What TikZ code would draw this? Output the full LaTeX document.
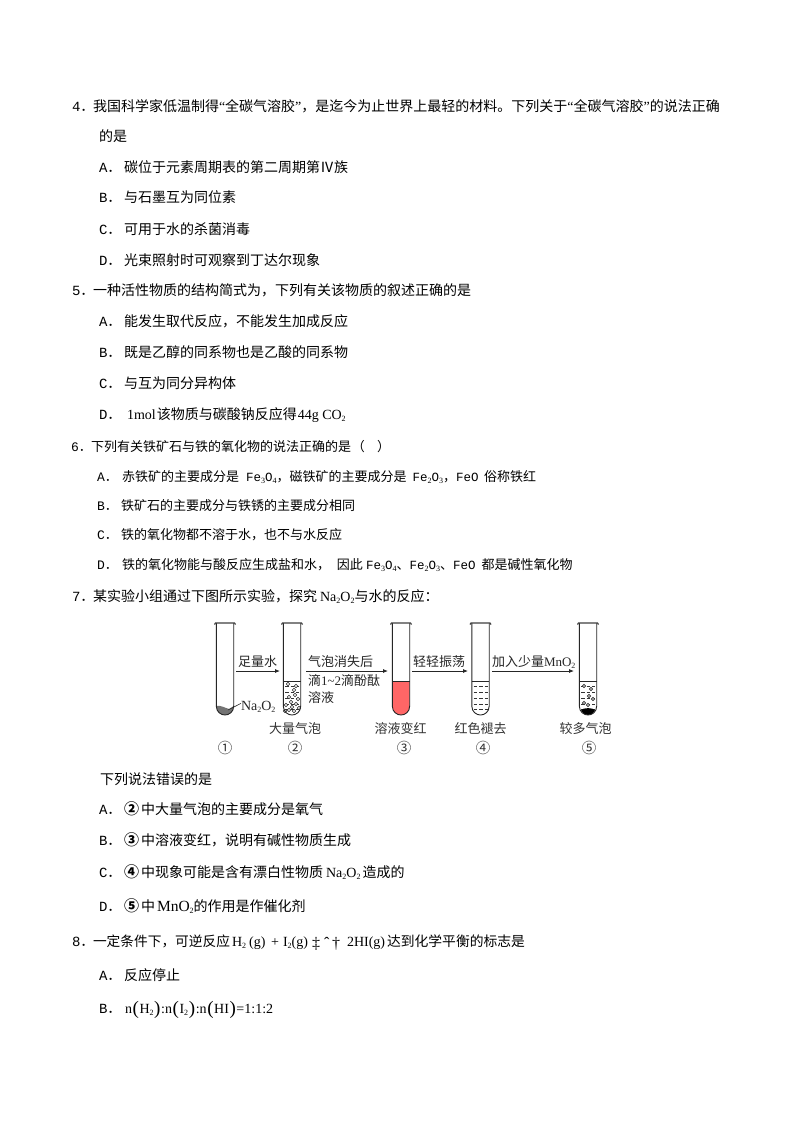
\documentclass[tikz,border=0pt]{standalone}
\usepackage{fontspec}
\usetikzlibrary{arrows.meta}
\setmainfont{Noto Sans CJK SC}
\newfontfamily\lat{Liberation Serif}
\newfontfamily\mon{Liberation Mono}
\newcommand{\dn}[1]{\raisebox{-2pt}{\fontsize{8}{8}\selectfont\lat #1}}
\newcommand{\nao}{{\lat Na\dn{2}O\dn{2}}}
\newcommand{\fsA}{\fontsize{14}{15}\selectfont}
\newcommand{\fsB}{\fontsize{13}{14}\selectfont}
\newcommand{\fsC}{\fontsize{13}{15}\selectfont}
\newcommand{\opt}[1]{{\mon #1}}
\newcommand{\ql}{{\lat “}}
\newcommand{\qr}{{\lat ”}}
\newcommand{\bigp}[1]{\hspace{0.6pt}{\lat\fontsize{19}{19}\selectfont\raisebox{-1.5pt}{#1}}\hspace{0.6pt}}
\newcommand{\fe}[1]{{\mon\fontsize{12.5}{14}\selectfont #1}}
\newcommand{\cnum}[1]{{\bfseries\fontsize{15}{15}\selectfont #1}\hspace{2pt}}
\newcommand{\tubeshape}[1]{(#1-8.7,623) -- (#1-8.7,706) .. controls (#1-8.7,712) and (#1-4,715) .. (#1,715) .. controls (#1+4,715) and (#1+8.7,712) .. (#1+8.7,706) -- (#1+8.7,623)}
\newcommand{\liquid}[2]{\fill[#2] (#1-8.7,681) -- (#1-8.7,706) .. controls (#1-8.7,712) and (#1-4,715) .. (#1,715) .. controls (#1+4,715) and (#1+8.7,712) .. (#1+8.7,706) -- (#1+8.7,681) -- cycle;}
\newcommand{\tube}[1]{\draw[tubeline] \tubeshape{#1};
  \draw[rimline] (#1-10.5,624.5) -- (#1-9.5,623) -- (#1+9.5,623) -- (#1+10.5,624.5);}
\newcommand{\dashrows}[1]{\foreach \yy in {686,692,698,704,709} {\draw[liqdash] (#1-7,\yy) -- (#1+7,\yy);}}
\tikzset{
  ln/.style={anchor=base west,inner sep=0pt,outer sep=0pt,font=\fsA},
  sm/.style={anchor=base west,inner sep=0pt,outer sep=0pt,font=\fsB},
  captxt/.style={anchor=base,inner sep=0pt,outer sep=0pt,font=\fsC,text=black!80},
  lab/.style={anchor=base west,inner sep=0pt,outer sep=0pt,font=\fsC,text=black!85},
  tubeline/.style={line width=0.9pt,black!85},
  rimline/.style={line width=1.2pt,black!75},
  liqdash/.style={line width=0.6pt,black!80,dash pattern=on 3.5pt off 2pt},
  bub/.style={line width=0.6pt,black!85,fill=white},
  arr/.style={line width=0.8pt,black!85,-{Latex[length=5pt,width=4pt]}},
}
\begin{document}
\begin{tikzpicture}[x=1pt,y=-1pt]
\useasboundingbox (0,0) rectangle (794,1123);
\fill[white] (0,0) rectangle (794,1123);
% question 4
\node[ln] (q4) at (72,112) {{\mon 4}．};
\node[ln] (q4t) at (93,112) {我国科学家低温制得\ql 全碳气溶胶\qr ，是迄今为止世界上最轻的材料。下列关于\ql 全碳气溶胶\qr 的说法正确};
\node[ln] (q4b) at (99,142) {的是};
\node[ln] (q4A) at (99,173) {\opt{A}．};
\node[ln] (q4At) at (124,173) {碳位于元素周期表的第二周期第Ⅳ族};
\node[ln] (q4B) at (99,203) {\opt{B}．};
\node[ln] (q4Bt) at (124,203) {与石墨互为同位素};
\node[ln] (q4C) at (99,234) {\opt{C}．};
\node[ln] (q4Ct) at (124,234) {可用于水的杀菌消毒};
\node[ln] (q4D) at (99,265) {\opt{D}．};
\node[ln] (q4Dt) at (124,265) {光束照射时可观察到丁达尔现象};
% question 5
\node[ln] (q5) at (72,295) {\opt{5}．};
\node[ln] (q5t) at (93,295) {一种活性物质的结构简式为，下列有关该物质的叙述正确的是};
\node[ln] (q5A) at (99,326) {\opt{A}．};
\node[ln] (q5At) at (124,326) {能发生取代反应，不能发生加成反应};
\node[ln] (q5B) at (99,357) {\opt{B}．};
\node[ln] (q5Bt) at (124,357) {既是乙醇的同系物也是乙酸的同系物};
\node[ln] (q5C) at (99,388) {\opt{C}．};
\node[ln] (q5Ct) at (124,388) {与互为同分异构体};
\node[ln] (q5D) at (99,419) {\opt{D}．};
\node[ln] (q5Dt) at (127,419) {{\lat 1mol}\hspace{1pt}该物质与碳酸钠反应得{\lat\hspace{1pt}44g CO\dn{2}}};
% question 6
\node[sm] (q6) at (71,451) {\opt{6}．};
\node[sm] (q6t) at (91,451) {下列有关铁矿石与铁的氧化物的说法正确的是\hspace{1pt}（\hspace{12pt}）};
\node[sm] (q6A) at (97,481) {\opt{A}．};
\node[sm] (q6At) at (122,481) {赤铁矿的主要成分是\hspace{7pt}\fe{Fe\dn{3}O\dn{4}}，磁铁矿的主要成分是\hspace{6pt}\fe{Fe\dn{2}O\dn{3}}，\fe{FeO}\hspace{5.5pt}俗称铁红};
\node[sm] (q6B) at (97,510) {\opt{B}．};
\node[sm] (q6Bt) at (121,510) {铁矿石的主要成分与铁锈的主要成分相同};
\node[sm] (q6C) at (97,539) {\opt{C}．};
\node[sm] (q6Ct) at (121,539) {铁的氧化物都不溶于水，也不与水反应};
\node[sm] (q6D) at (97,569) {\opt{D}．};
\node[sm] (q6Dt) at (122,569) {铁的氧化物能与酸反应生成盐和水，\hspace{7pt}因此\hspace{3pt}\fe{Fe\dn{3}O\dn{4}}、\fe{Fe\dn{2}O\dn{3}}、\fe{FeO}\hspace{6pt}都是碱性氧化物};
% question 7
\node[ln] (q7) at (72,601) {\opt{7}．};
\node[ln] (q7t) at (93,601) {某实验小组通过下图所示实验，探究 \nao 与水的反应：};
% figure: liquids
\fill[black!55] (216.3,706) .. controls (221,705) and (225,708) .. (229,709) -- (233.7,706) .. controls (233.7,712) and (229,715) .. (225,715) .. controls (221,715) and (216.3,712) .. (216.3,706) -- cycle;
\liquid{401}{red!60!white}
\dashrows{480.5}
\dashrows{292}
\dashrows{588}
\fill[black] (581,710) .. controls (584,707.5) and (592,707.5) .. (595,710) .. controls (593,714) and (590,715) .. (588,715) .. controls (586,715) and (583,714) .. (581,710) -- cycle;
\foreach \bx/\by in {288/684,296/686,294/690,289/697,295/695,298/699,291/702,286/705,296/704,289/710,294/711,299/708,285/711,292/707}
  {\draw[bub] (\bx,\by) circle[radius=1.7];}
\foreach \bx/\by in {584/686,591/689,589/696,593/699,584/703,588/705}
  {\draw[bub] (\bx,\by) circle[radius=1.6];}
\tube{225}
\tube{292}
\tube{401}
\tube{480.5}
\tube{588}
\draw[tubeline] (292-8.7,681) -- (292+8.7,681);
\draw[tubeline] (401-8.7,681) -- (401+8.7,681);
\draw[tubeline] (480.5-8.7,681) -- (480.5+8.7,681);
\draw[tubeline] (588-8.7,681) -- (588+8.7,681);
% figure: arrows
\coordinate (a1s) at (236,671); \coordinate (a1e) at (280,671);
\coordinate (a2s) at (306,671); \coordinate (a2e) at (388,671);
\coordinate (a3s) at (412,671); \coordinate (a3e) at (468,671);
\coordinate (a4s) at (492,671); \coordinate (a4e) at (574,671);
\draw[arr] (a1s) -- (a1e);
\draw[arr] (a2s) -- (a2e);
\draw[arr] (a3s) -- (a3e);
\draw[arr] (a4s) -- (a4e);
% figure: labels
\node[lab] (l1) at (238,666) {足量水};
\node[lab] (l2) at (308,666) {气泡消失后};
\node[lab] (l3) at (308,685) {滴{\lat 1\textasciitilde 2}滴酚酞};
\node[lab] (l4) at (308,702) {溶液};
\node[lab] (l5) at (413,666) {轻轻振荡};
\node[lab] (l6) at (492,666) {加入少量{\lat MnO\dn{2}}};
\node[lab,font=\fontsize{14}{15}\selectfont] (na) at (241,710) {\nao};
\coordinate (naend) at (228,710);
\draw[line width=0.6pt,black!85] (na.west) ++(0,-3) -- (naend);
\node[captxt] (c2) at (295,733) {大量气泡};
\node[captxt] (c3) at (400.5,733) {溶液变红};
\node[captxt] (c4) at (480.5,733) {红色褪去};
\node[captxt] (c5) at (585.5,733) {较多气泡};
\node[captxt,font=\fontsize{14.5}{15}\selectfont] (n1) at (225,753) {①};
\node[captxt,font=\fontsize{14.5}{15}\selectfont] (n2) at (295,753) {②};
\node[captxt,font=\fontsize{14.5}{15}\selectfont] (n3) at (404,753) {③};
\node[captxt,font=\fontsize{14.5}{15}\selectfont] (n4) at (483,753) {④};
\node[captxt,font=\fontsize{14.5}{15}\selectfont] (n5) at (589,753) {⑤};
% question 7 options
\node[ln] (q7s) at (100,784) {下列说法错误的是};
\node[ln] (q7A) at (99,814) {\opt{A}．};
\node[ln] (q7At) at (124,814) {\cnum{②}中大量气泡的主要成分是氧气};
\node[ln] (q7B) at (99,845) {\opt{B}．};
\node[ln] (q7Bt) at (124,845) {\cnum{③}中溶液变红，说明有碱性物质生成};
\node[ln] (q7C) at (99,877) {\opt{C}．};
\node[ln] (q7Ct) at (124,877) {\cnum{④}中现象可能是含有漂白性物质 \nao\hspace{2pt}造成的};
\node[ln] (q7D) at (99,911) {\opt{D}．};
\node[ln] (q7Dt) at (124,911) {\cnum{⑤}中\hspace{2pt}{\lat\fontsize{15.5}{16}\selectfont MnO\dn{2}}的作用是作催化剂};
% question 8
\node[ln] (q8) at (72,946) {\opt{8}．};
\node[ln,font=\fontsize{13.7}{15}\selectfont] (q8t) at (93,946) {一定条件下，可逆反应};
\node[ln] (q8e) at (232,946) {{\lat H\dn{2}\hspace{3pt}(g)}};
\node[ln] (q8p) at (271,946) {{\lat +}};
\node[ln] (q8i) at (283,946) {{\lat I\dn{2}(g)}};
\node[ln,font=\fontsize{16}{16}\selectfont] (q8x) at (312,948) {{\lat ‡}};
\node[ln,font=\fontsize{16}{16}\selectfont] (q8y) at (324,948) {{\lat ˆ}};
\node[ln,font=\fontsize{16}{16}\selectfont] (q8z) at (332,948) {{\lat †}};
\node[ln] (q8r) at (347,946) {{\lat 2HI(g)}};
\node[ln,font=\fontsize{13.8}{15}\selectfont] (q8s) at (387,946) {达到化学平衡的标志是};
\node[ln] (q8A) at (99,980) {\opt{A}．};
\node[ln] (q8At) at (124,980) {反应停止};
\node[ln] (q8B) at (99,1013) {\opt{B}．};
\node[ln] (q8Bt) at (125,1013) {{\lat n\bigp{(}H\dn{2}\bigp{)}:n\bigp{(}I\dn{2}\bigp{)}:n\bigp{(}HI\bigp{)}=1:1:2}};
\end{tikzpicture}
\end{document}
